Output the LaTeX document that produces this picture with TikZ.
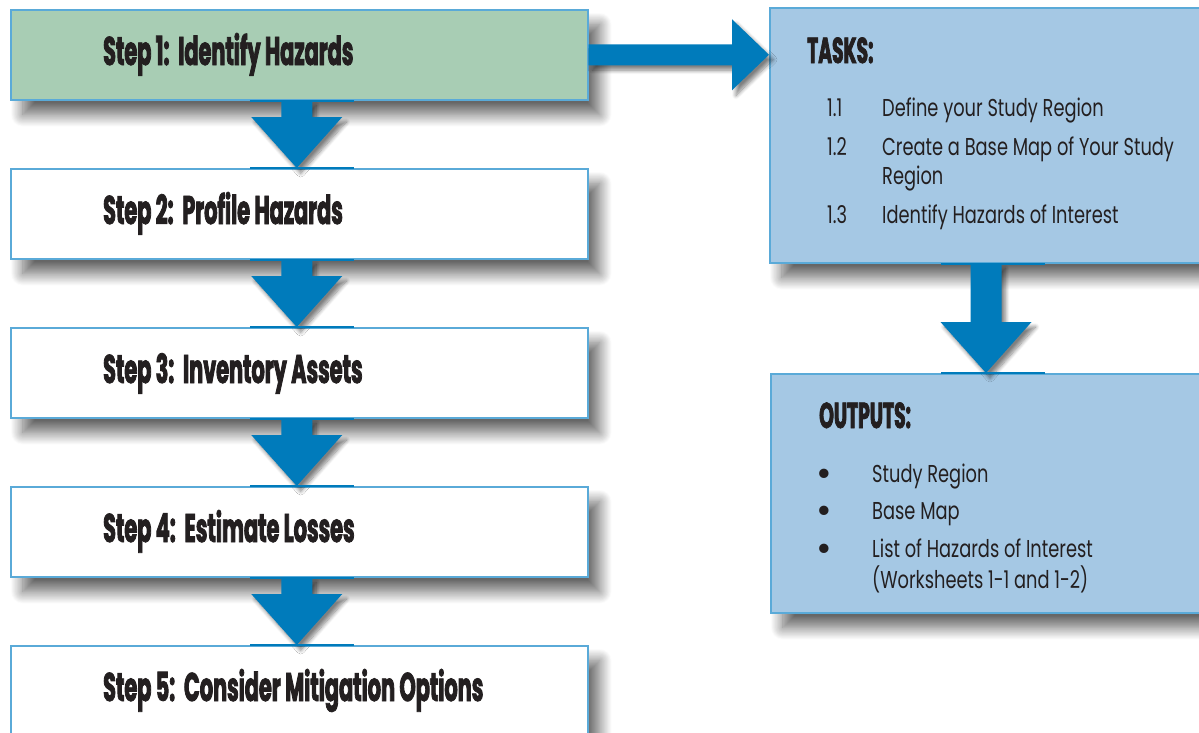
\documentclass[tikz,border=0pt]{standalone}
\usepackage{fontspec}
\setmainfont{Poppins}
\newfontfamily\headfont{Poppins}[FakeStretch=0.52,FakeBold=2]
\newfontfamily\bodyfont{Poppins}[FakeStretch=0.73]
\usetikzlibrary{shadows.blur,calc}
\definecolor{arrowblue}{HTML}{007BBB}
\definecolor{boxborder}{HTML}{5AAAD8}
\definecolor{stepgreen}{HTML}{A8CDB4}
\definecolor{taskblue}{HTML}{A5C8E4}
\definecolor{inktext}{HTML}{231F20}
\tikzset{
  boxshadow/.style={blur shadow={shadow xshift=12pt,shadow yshift=-15pt,shadow blur radius=12pt,shadow blur steps=20,shadow opacity=60}},
  arrowshadow/.style={blur shadow={shadow xshift=4pt,shadow yshift=-5pt,shadow blur radius=4pt,shadow blur steps=8,shadow opacity=50}},
  stepbox/.style={draw=boxborder,line width=1.5pt,fill=white,minimum width=577pt,minimum height=90pt,anchor=north west,inner sep=0pt,boxshadow},
  infobox/.style={draw=boxborder,line width=1.5pt,fill=taskblue,anchor=north west,inner sep=0pt,boxshadow},
  steptext/.style={anchor=base west,inner sep=0pt,font=\headfont\bfseries\fontsize{40}{44}\selectfont,text=inktext},
  headtext/.style={anchor=base west,inner sep=0pt,font=\headfont\bfseries\fontsize{36}{40}\selectfont,text=inktext},
  bodytext/.style={anchor=base west,inner sep=0pt,font=\bodyfont\fontsize{24.4}{28}\selectfont,text=inktext},
  bullettext/.style={anchor=center,inner sep=0pt,font=\fontsize{38}{40}\selectfont,text=inktext},
  arrowfill/.style={fill=arrowblue,arrowshadow},
  edgemark/.style={draw=arrowblue,line width=2pt}
}
\newcommand\dnarrow[2]{%
  \fill[arrowfill] let \p1=(#1), \p2=(#2) in
    (\x1-15.5pt,\y1) -- (\x1-15.5pt,\y2+51pt) -- (\x1-45.5pt,\y2+51pt) -- (\x1,\y2)
    -- (\x1+45.5pt,\y2+51pt) -- (\x1+15.5pt,\y2+51pt) -- (\x1+15.5pt,\y1) -- cycle;}
\begin{document}
\begin{tikzpicture}[x=1pt,y=-1pt]
\useasboundingbox (0,0) rectangle (1199,732);
\clip (0,0) rectangle (1199,732);
% left column boxes
\node[stepbox,fill=stepgreen] (s1) at (10,9) {};
\node[stepbox] (s2) at (10,168) {};
\node[stepbox] (s3) at (10,327) {};
\node[stepbox] (s4) at (10,486) {};
\node[stepbox] (s5) at (10,645) {};
% right column boxes
\node[infobox,minimum width=445pt,minimum height=255pt] (tasks) at (769,7) {};
\node[infobox,minimum width=445pt,minimum height=239pt] (outs) at (770,373) {};
% step texts
\node[steptext] (t1) at ($(s1.north west)+(93,56)$) {Step 1:\ \ Identify Hazards};
\node[steptext] (t2) at ($(s2.north west)+(93,56)$) {Step 2:\ \ Profile Hazards};
\node[steptext] (t3) at ($(s3.north west)+(93,56)$) {Step 3:\ \ Inventory Assets};
\node[steptext] (t4) at ($(s4.north west)+(93,56)$) {Step 4:\ \ Estimate Losses};
\node[steptext] (t5) at ($(s5.north west)+(93,56)$) {Step 5:\ \ Consider Mitigation Options};
% down arrows between steps
\coordinate (a1s) at ($(s1.south)+(-2.5,0)$); \coordinate (a1e) at ($(s2.north)+(-2.5,0)$);
\coordinate (a2s) at ($(s2.south)+(-2.5,0)$); \coordinate (a2e) at ($(s3.north)+(-2.5,0)$);
\coordinate (a3s) at ($(s3.south)+(-2.5,0)$); \coordinate (a3e) at ($(s4.north)+(-2.5,0)$);
\coordinate (a4s) at ($(s4.south)+(-2.5,0)$); \coordinate (a4e) at ($(s5.north)+(-2.5,0)$);
\dnarrow{a1s}{a1e}
\dnarrow{a2s}{a2e}
\dnarrow{a3s}{a3e}
\dnarrow{a4s}{a4e}
\foreach \b in {s1,s2,s3,s4}{\draw[edgemark] ($(\b.south)+(-49.5,0)$) -- ($(\b.south)+(54.5,0)$);}
\foreach \b in {s2,s3,s4,s5}{\draw[edgemark] ($(\b.north)+(-49.5,0)$) -- ($(\b.north)+(54.5,0)$);}
% right arrow
\coordinate (ra) at (tasks.west |- s1.east);
\fill[arrowfill] let \p1=(s1.east), \p2=(ra) in
  (\x1,\y1+10.5pt) -- (\x2-37pt,\y1+10.5pt) -- (\x2-37pt,\y1+35.5pt) -- (\x2,\y1)
  -- (\x2-37pt,\y1-35.5pt) -- (\x2-37pt,\y1-10.5pt) -- (\x1,\y1-10.5pt) -- cycle;
% tasks to outputs arrow
\coordinate (b1s) at ($(tasks.south west)+(217,0)$);
\coordinate (b1e) at (b1s |- outs.north);
\dnarrow{b1s}{b1e}
\draw[edgemark] ($(tasks.south west)+(172,0)$) -- ($(tasks.south west)+(276,0)$);
\draw[edgemark] ($(outs.north west)+(171,0)$) -- ($(outs.north west)+(275,0)$);
% tasks content
\node[headtext] (th) at (807,63) {TASKS:};
\node[bodytext] (n11) at (827,116) {1.1};
\node[bodytext] (d11) at (882,116) {Define your Study Region};
\node[bodytext] (n12) at (827,155) {1.2};
\node[bodytext] (d12) at (882,155) {Create a Base Map of Your Study};
\node[bodytext] (d12b) at (882,184) {Region};
\node[bodytext] (n13) at (827,223) {1.3};
\node[bodytext] (d13) at (882,223) {Identify Hazards of Interest};
% outputs content
\node[headtext] (oh) at (819,428) {OUTPUTS:};
\node[bullettext] (b1) at (824,478) {\textbullet};
\node[bodytext] (o1) at (872,482) {Study Region};
\node[bullettext] (b2) at (824,515) {\textbullet};
\node[bodytext] (o2) at (872,519) {Base Map};
\node[bullettext] (b3) at (824,553) {\textbullet};
\node[bodytext] (o3) at (872,557) {List of Hazards of Interest};
\node[bodytext] (o3b) at (872,588) {(Worksheets 1-1 and 1-2)};
\end{tikzpicture}
\end{document}
